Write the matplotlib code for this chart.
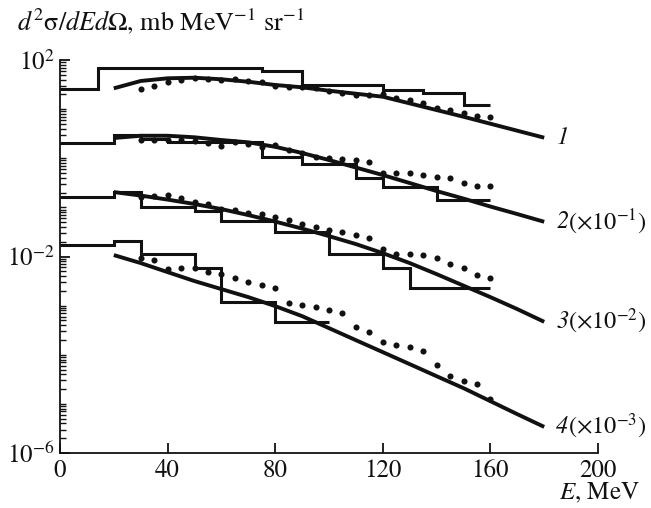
import numpy as np
import matplotlib
matplotlib.use("Agg")
import matplotlib.pyplot as plt

plt.rcParams['font.family'] = ['STIXGeneral', 'DejaVu Serif']
plt.rcParams['mathtext.fontset'] = 'custom'
plt.rcParams['mathtext.rm'] = 'STIXGeneral'
plt.rcParams['mathtext.it'] = 'STIXGeneral:italic'
plt.rcParams['mathtext.bf'] = 'STIXGeneral:bold'

# ---------------- data ----------------
# curve 1 (x1)
h1_edges = [0, 14, 75, 90, 120, 135, 150, 160]
h1_vals = [25.3, 69.7, 60.5, 31.0, 24.5, 21.0, 12.1]
dots_E = [30, 35, 40, 45, 50, 55, 60, 65, 70, 75, 80, 85, 90, 95, 100,
          105, 110, 115, 120, 125, 130, 135, 140, 145, 150, 155, 160]
d1_vals = [25.3, 29.5, 35.2, 39.2, 42.4, 40.5, 39.2, 41.0, 37.9, 35.2, 29.5,
           27.8, 28.6, 26.5, 23.1, 21.0, 19.4, 19.8, 20.8, 17.1, 15.3, 13.1,
           10.4, 9.6, 8.5, 7.2, 7.0]
l1_E = [20, 30, 40, 50, 60, 70, 80, 90, 100, 120, 150, 180]
l1_vals = [26.5, 37.4, 42.4, 43.6, 40.5, 36.1, 31.0, 27.8, 23.7, 17.9, 7.0, 2.62]

# curve 2 (x1e-1)
h2_edges = [0, 20, 30, 40, 75, 90, 110, 120, 140, 160]
h2_vals = [20.1, 29.7, 24.3, 21.7, 10.4, 7.62, 3.90, 2.63, 1.41]
d2_vals = [23.5, 24.0, 24.0, 23.5, 22.4, 20.9, 17.7, 21.7, 19.5, 16.7, 18.6,
           14.7, 12.6, 10.7, 10.2, 9.6, 9.2, 8.2, 5.07, 4.92, 4.92, 4.55,
           4.20, 3.90, 3.17, 2.72, 2.72]
line_E = [20, 30, 40, 50, 60, 70, 80, 90, 100, 110, 120, 130, 140, 150, 160, 170, 180]
l2_vals = [25.8, 28.7, 28.7, 26.7, 23.5, 21.1, 17.1, 12.8, 9.2, 6.47, 4.55,
           3.13, 2.15, 1.51, 1.04, 0.731, 0.509]

# curve 3 (x1e-2)
h3_edges = [0, 20, 30, 50, 60, 80, 100, 120, 130, 160]
h3_vals = [16.4, 20.8, 10.3, 8.53, 5.26, 3.18, 1.12, 0.573, 0.224]
d3_vals = [16.0, 17.0, 17.8, 15.5, 13.0, 11.5, 9.10, 8.81, 7.76, 7.31, 6.44,
           5.51, 4.57, 3.97, 3.45, 3.18, 2.73, 2.34, 1.40, 1.12, 1.12, 1.07,
           0.915, 0.70, 0.573, 0.418, 0.358]
l3_vals = [20.5, 17.4, 14.4, 11.7, 9.23, 6.97, 5.14, 3.70, 2.60, 1.79, 1.17,
           0.735, 0.438, 0.255, 0.149, 0.0849, 0.0468]

# curve 4 (x1e-3)
h4_edges = [0, 20, 30, 50, 60, 80, 100]
h4_vals = [16.8, 20.9, 11.2, 5.73, 1.18, 0.468]
d4_vals = [9.15, 8.45, 5.46, 5.73, 5.73, 4.88, 4.38, 3.58, 3.01, 2.62, 2.24,
           1.14, 1.02, 0.931, 0.809, 0.713, 0.360, 0.284, 0.183, 0.157, 0.141,
           0.120, 0.0614, 0.0366, 0.0290, 0.0248, 0.0123]
l4_vals = [10.69, 7.35, 4.81, 3.16, 2.17, 1.49, 0.977, 0.611, 0.348, 0.198,
           0.113, 0.0644, 0.0366, 0.0209, 0.01135, 0.00617, 0.00340]

scales = [1.0, 1e-1, 1e-2, 1e-3]
curve_nums = ['1', '2', '3', '4']
curve_suffix = ['', r'(×10$^{-1}$)', r'(×10$^{-2}$)', r'(×10$^{-3}$)']

x_ticks = [0, 40, 80, 120, 160, 200]
y_tick_vals = [1e2, 1e-2, 1e-6]
y_tick_labels = [r'10$^{2}$', r'10$^{-2}$', r'10$^{-6}$']

# ---------------- figure ----------------
fig = plt.figure(figsize=(6.51, 5.08), dpi=100)
ax = fig.add_axes([60/651, 1-453/508, (598-60)/651, (453-60)/508])

hists = [(h1_edges, h1_vals), (h2_edges, h2_vals), (h3_edges, h3_vals), (h4_edges, h4_vals)]
dots = [d1_vals, d2_vals, d3_vals, d4_vals]
lines = [(l1_E, l1_vals), (line_E, l2_vals), (line_E, l3_vals), (line_E, l4_vals)]

for i in range(4):
    s = scales[i]
    e, v = hists[i]
    ax.stairs(np.array(v) * s, e, baseline=None, color='#111111', lw=2.2)
    ax.plot(dots_E, np.array(dots[i]) * s, 'o', color='#111111', ms=4.4, mew=0)
    le, lv = lines[i]
    ax.plot(le, np.array(lv) * s, '-', color='#111111', lw=2.8, solid_capstyle='butt')
    t = ax.text(le[-1] + 4.5, lv[-1] * s, curve_nums[i], fontsize=17.5, style='italic',
                va='center', ha='left', color='#111111')
    if curve_suffix[i]:
        ax.annotate(curve_suffix[i], xy=(1.0, 0.5), xycoords=t, fontsize=17.5,
                    va='center', ha='left', color='#111111')

ax.set_yscale('log')
ax.set_xlim(0, 200)
ax.set_ylim(1e-6, 1e2)
for sp in ['top', 'right']:
    ax.spines[sp].set_visible(False)
for sp in ['left', 'bottom']:
    ax.spines[sp].set_linewidth(1.3)
    ax.spines[sp].set_color('#111111')

ax.set_xticks(x_ticks)
ax.set_xticklabels([str(t) for t in x_ticks], fontsize=18)
ax.yaxis.set_major_locator(matplotlib.ticker.FixedLocator(y_tick_vals))
ax.yaxis.set_major_formatter(matplotlib.ticker.FixedFormatter(y_tick_labels))
ax.yaxis.set_minor_locator(matplotlib.ticker.LogLocator(base=10, subs=np.arange(1, 10), numticks=100))
ax.yaxis.set_minor_formatter(matplotlib.ticker.NullFormatter())
ax.tick_params(axis='both', which='major', direction='in', length=7, width=1.3,
               labelsize=18, colors='#111111', pad=4)
ax.tick_params(axis='y', which='minor', direction='in', length=4, width=1.0, colors='#111111')
ax.tick_params(axis='x', which='minor', bottom=False)

fig.text(17/651, 1-22/508, r'$d^2\mathrm{\sigma}/dEd\Omega$, mb MeV$^{-1}$ sr$^{-1}$',
         fontsize=18.8, va='center', ha='left', color='#111111')
fig.text(640/651, 1-493/508, r'$E$, MeV', fontsize=18, va='center', ha='right',
         color='#111111')

fig.savefig('out.png', dpi=100)
